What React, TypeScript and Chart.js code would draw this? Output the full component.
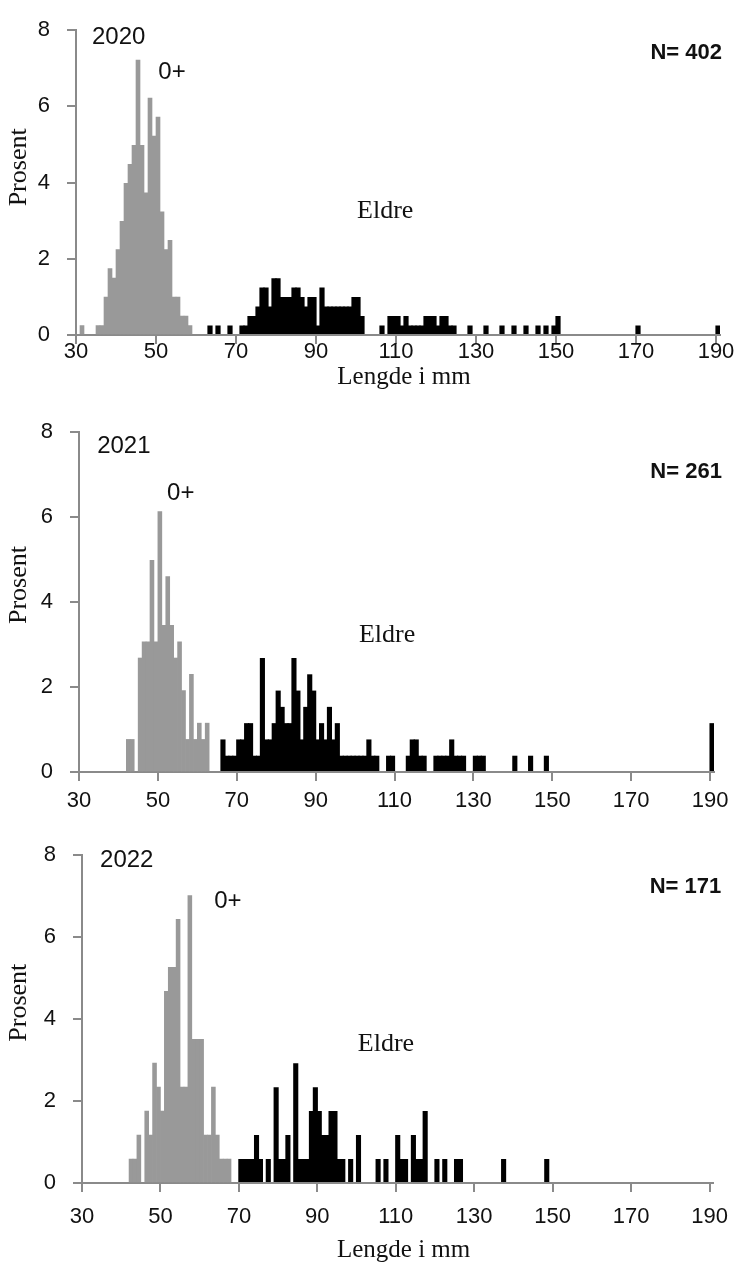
import React, { useEffect, useRef } from 'react';
import { Chart, registerables } from 'chart.js';

Chart.register(...registerables);

// ---------- data (fish counts per 1 mm length class) ----------
const X_TICKS = [30, 50, 70, 90, 110, 130, 150, 170, 190];
const Y_TICKS = [0, 2, 4, 6, 8];
const YEARS = ['2020', '2021', '2022'];
const N_FISH = [402, 261, 171];

const LEN_YOUNG_2020 = [31, 35, 36, 37, 38, 39, 40, 41, 42, 43, 44, 45, 46, 47, 48, 49, 50, 51, 52, 53, 54, 55, 56, 57, 58];
const CNT_YOUNG_2020 = [1, 1, 1, 4, 7, 6, 9, 12, 16, 18, 20, 29, 20, 15, 25, 21, 23, 13, 9, 10, 4, 4, 2, 2, 1];
const LEN_OLD_2020 = [63, 65, 68, 71, 72, 73, 74, 75, 76, 77, 78, 79, 80, 81, 82, 83, 84, 85, 86, 87, 88, 89, 90, 91, 92, 93, 94, 95, 96, 97, 98, 99, 100, 101, 106, 108, 109, 110, 111, 112, 113, 114, 115, 116, 117, 118, 119, 120, 121, 122, 123, 124, 128, 132, 136, 139, 142, 145, 147, 149, 150, 170, 190];
const CNT_OLD_2020 = [1, 1, 1, 1, 1, 2, 2, 3, 5, 5, 3, 6, 6, 4, 4, 4, 5, 5, 4, 3, 4, 4, 1, 5, 3, 3, 3, 3, 3, 3, 3, 4, 4, 2, 1, 2, 2, 2, 1, 2, 1, 1, 1, 1, 2, 2, 2, 1, 2, 2, 1, 1, 1, 1, 1, 1, 1, 1, 1, 1, 2, 1, 1];

const LEN_YOUNG_2021 = [42, 43, 45, 46, 47, 48, 49, 50, 51, 52, 53, 54, 55, 56, 57, 58, 59, 60, 61, 62];
const CNT_YOUNG_2021 = [2, 2, 7, 8, 8, 13, 8, 16, 9, 12, 9, 7, 8, 5, 2, 6, 2, 3, 2, 3];
const LEN_OLD_2021 = [66, 67, 68, 69, 70, 71, 72, 73, 74, 75, 76, 77, 78, 79, 80, 81, 82, 83, 84, 85, 86, 87, 88, 89, 90, 91, 92, 93, 94, 95, 96, 97, 98, 99, 100, 101, 102, 103, 104, 105, 108, 109, 113, 114, 115, 116, 117, 120, 121, 122, 123, 124, 125, 126, 127, 130, 131, 132, 140, 144, 148, 190];
const CNT_OLD_2021 = [2, 1, 1, 1, 2, 2, 3, 3, 1, 1, 7, 2, 2, 3, 5, 4, 3, 3, 7, 5, 2, 4, 6, 5, 2, 3, 2, 4, 2, 3, 1, 1, 1, 1, 1, 1, 1, 2, 1, 1, 1, 1, 1, 2, 2, 1, 1, 1, 1, 1, 1, 2, 1, 1, 1, 1, 1, 1, 1, 1, 1, 3];

const LEN_YOUNG_2022 = [42, 43, 44, 46, 47, 48, 49, 50, 51, 52, 53, 54, 55, 56, 57, 58, 59, 60, 61, 62, 63, 64, 65, 66, 67];
const CNT_YOUNG_2022 = [1, 1, 2, 3, 2, 5, 4, 3, 8, 9, 9, 11, 4, 4, 12, 6, 6, 6, 2, 2, 4, 2, 1, 1, 1];
const LEN_OLD_2022 = [70, 71, 72, 73, 74, 75, 77, 79, 80, 81, 82, 84, 85, 86, 87, 88, 89, 90, 91, 92, 93, 94, 95, 96, 98, 100, 105, 107, 110, 111, 112, 114, 115, 116, 117, 120, 122, 125, 126, 137, 148];
const CNT_OLD_2022 = [1, 1, 1, 1, 2, 1, 1, 4, 1, 1, 2, 5, 1, 1, 1, 3, 4, 3, 2, 2, 3, 3, 1, 1, 1, 2, 1, 1, 2, 1, 1, 2, 1, 1, 3, 1, 1, 1, 1, 1, 1];

// ---------- layout / style ----------
const PAGE_W = 740;
const AXIS_COLOR = '#8a8a8a';
const TEXT_COLOR = '#111111';
const GREY = '#999999';
const SANS = '"Liberation Sans", Arial, sans-serif';
const SERIF = '"Liberation Serif", "Times New Roman", serif';

type Geo = {
  canvasTop: number;
  canvasH: number;
  left: number;
  right: number;
  top: number;
  bottom: number;
  xLabelPad: number;
  showXTitle: boolean;
  xTitleY: number;
  yearPos: [number, number];
  youngPos: [number, number];
  oldPos: [number, number];
  nPos: [number, number];
};

const GEOS: Geo[] = [
  { canvasTop: 0, canvasH: 400, left: 76, right: 720, top: 23, bottom: 335, xLabelPad: -5, showXTitle: true, xTitleY: 377, yearPos: [34, 7.8], youngPos: [54, 6.9], oldPos: [107.3, 3.26], nPos: [191.5, 7.41] },
  { canvasTop: 400, canvasH: 425, left: 79, right: 714, top: 432, bottom: 772, xLabelPad: 7, showXTitle: false, xTitleY: 0, yearPos: [34.6, 7.67], youngPos: [55.8, 6.56], oldPos: [108.1, 3.22], nPos: [193, 7.06] },
  { canvasTop: 825, canvasH: 439, left: 82, right: 718, top: 852, bottom: 1183, xLabelPad: 12, showXTitle: true, xTitleY: 1250, yearPos: [34.6, 7.87], youngPos: [67.2, 6.88], oldPos: [107.5, 3.4], nPos: [193, 7.22] },
];

const X_AXIS_H = 60;

function toPoints(lengths: number[], counts: number[], n: number) {
  return lengths.map((len, i) => ({ x: len + 0.5, y: (counts[i] * 100) / n }));
}

function Panel({ idx, young, old }: { idx: number; young: { x: number; y: number }[]; old: { x: number; y: number }[] }) {
  const ref = useRef<HTMLCanvasElement | null>(null);
  const g = GEOS[idx];

  useEffect(() => {
    if (!ref.current) return;
    const localTop = g.top - g.canvasTop;
    const localBottom = g.bottom - g.canvasTop;
    const padBottom = g.canvasH - localBottom - X_AXIS_H;
    const padLeft = 4;

    const textPlugin = {
      id: 'panelTexts',
      afterDraw(chart: any) {
        const { ctx, scales } = chart;
        const xs = scales.x;
        const ys = scales.y;
        ctx.save();
        ctx.fillStyle = TEXT_COLOR;
        ctx.textBaseline = 'middle';

        ctx.font = `24px ${SANS}`;
        ctx.textAlign = 'left';
        ctx.fillText(YEARS[idx], xs.getPixelForValue(g.yearPos[0]), ys.getPixelForValue(g.yearPos[1]));

        ctx.textAlign = 'center';
        ctx.fillText('0+', xs.getPixelForValue(g.youngPos[0]), ys.getPixelForValue(g.youngPos[1]));

        ctx.font = `26px ${SERIF}`;
        ctx.fillText('Eldre', xs.getPixelForValue(g.oldPos[0]), ys.getPixelForValue(g.oldPos[1]));

        ctx.font = `bold 22px ${SANS}`;
        ctx.textAlign = 'right';
        ctx.fillText('N= ' + N_FISH[idx], xs.getPixelForValue(g.nPos[0]), ys.getPixelForValue(g.nPos[1]));

        // y axis title
        ctx.font = `26px ${SERIF}`;
        ctx.textAlign = 'center';
        ctx.save();
        ctx.translate(19, ys.getPixelForValue(4.4));
        ctx.rotate(-Math.PI / 2);
        ctx.fillText('Prosent', 0, 0);
        ctx.restore();

        if (g.showXTitle) {
          ctx.font = `25px ${SERIF}`;
          ctx.textAlign = 'center';
          ctx.fillText('Lengde i mm', xs.getPixelForValue(112), g.xTitleY - g.canvasTop);
        }
        ctx.restore();
      },
    };

    const chart = new Chart(ref.current, {
      type: 'bar',
      data: {
        datasets: [
          {
            label: '0+',
            data: young,
            backgroundColor: GREY,
            borderWidth: 0,
            grouped: false,
            barPercentage: 1,
            categoryPercentage: 1,
          } as any,
          {
            label: 'Eldre',
            data: old,
            backgroundColor: '#000000',
            borderWidth: 0,
            grouped: false,
            barPercentage: 1.3,
            categoryPercentage: 1,
          } as any,
        ],
      },
      options: {
        responsive: false,
        animation: false,
        events: [],
        layout: { padding: { left: padLeft, right: PAGE_W - g.right, top: localTop, bottom: padBottom } },
        plugins: { legend: { display: false }, tooltip: { enabled: false } },
        scales: {
          x: {
            type: 'linear',
            min: 30,
            max: 191,
            offset: false,
            afterBuildTicks: (s: any) => {
              s.ticks = X_TICKS.map((v) => ({ value: v }));
            },
            afterFit: (s: any) => {
              s.height = X_AXIS_H;
            },
            ticks: {
              autoSkip: false,
              maxRotation: 0,
              padding: g.xLabelPad,
              color: TEXT_COLOR,
              font: { family: SANS, size: 22 },
            },
            grid: { offset: false, drawOnChartArea: false, drawTicks: true, tickLength: 9, color: AXIS_COLOR, lineWidth: 2 },
            border: { display: true, color: AXIS_COLOR, width: 2 },
          },
          y: {
            min: 0,
            max: 8,
            afterBuildTicks: (s: any) => {
              s.ticks = Y_TICKS.map((v) => ({ value: v }));
            },
            afterFit: (s: any) => {
              s.width = g.left - padLeft;
            },
            ticks: {
              padding: 17,
              color: TEXT_COLOR,
              font: { family: SANS, size: 22 },
            },
            grid: { drawOnChartArea: false, drawTicks: true, tickLength: 9, color: AXIS_COLOR, lineWidth: 2 },
            border: { display: true, color: AXIS_COLOR, width: 2 },
          },
        },
      } as any,
      plugins: [textPlugin],
    });
    return () => chart.destroy();
  }, [idx, young, old]);

  return (
    <canvas
      ref={ref}
      width={PAGE_W}
      height={g.canvasH}
      style={{ position: 'absolute', left: 0, top: g.canvasTop, width: PAGE_W, height: g.canvasH }}
    />
  );
}

const YOUNG = [
  toPoints(LEN_YOUNG_2020, CNT_YOUNG_2020, N_FISH[0]),
  toPoints(LEN_YOUNG_2021, CNT_YOUNG_2021, N_FISH[1]),
  toPoints(LEN_YOUNG_2022, CNT_YOUNG_2022, N_FISH[2]),
];
const OLD = [
  toPoints(LEN_OLD_2020, CNT_OLD_2020, N_FISH[0]),
  toPoints(LEN_OLD_2021, CNT_OLD_2021, N_FISH[1]),
  toPoints(LEN_OLD_2022, CNT_OLD_2022, N_FISH[2]),
];

export default function App() {
  return (
    <div style={{ position: 'absolute', left: 0, top: 0, width: PAGE_W, height: 1264, background: '#ffffff' }}>
      {[0, 1, 2].map((i) => (
        <Panel key={i} idx={i} young={YOUNG[i]} old={OLD[i]} />
      ))}
    </div>
  );
}
